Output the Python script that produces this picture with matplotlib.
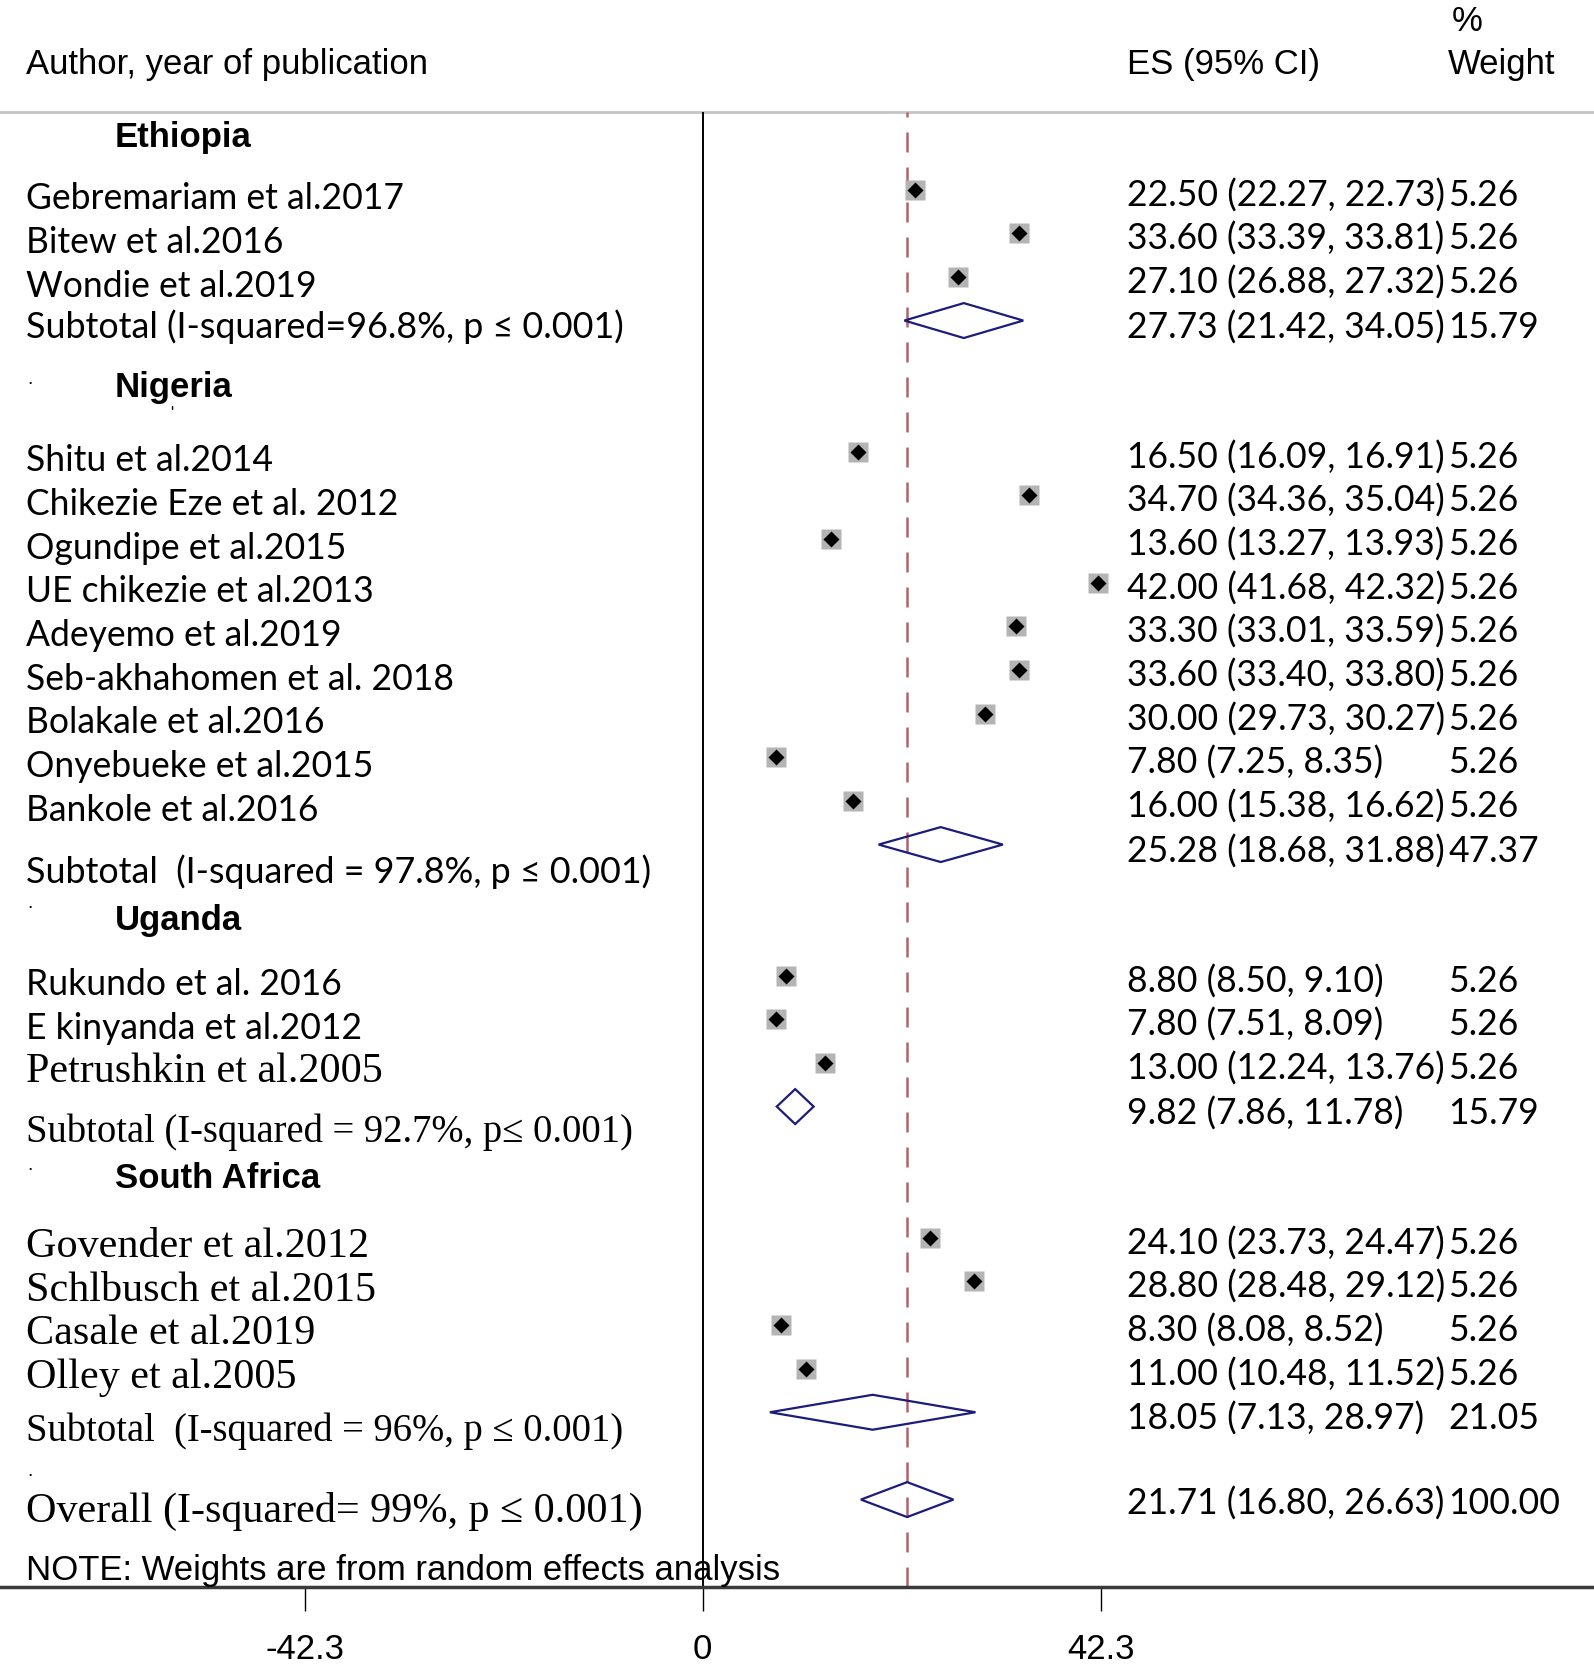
import matplotlib.pyplot as plt
from matplotlib.patches import Polygon
import matplotlib.transforms as mtransforms

ARIAL = 'Liberation Sans'
CALIBRI = 'Lato'
TIMES = 'Liberation Serif'

# ---- data ----
groups = ['Ethiopia', 'Nigeria', 'Uganda', 'South Africa']

study_names = [
    ['Gebremariam et al.2017', 'Bitew et al.2016', 'Wondie et al.2019'],
    ['Shitu et al.2014', 'Chikezie Eze et al. 2012', 'Ogundipe et al.2015',
     'UE chikezie et al.2013', 'Adeyemo et al.2019', 'Seb-akhahomen et al. 2018',
     'Bolakale et al.2016', 'Onyebueke et al.2015', 'Bankole et al.2016'],
    ['Rukundo et al. 2016', 'E kinyanda et al.2012', 'Petrushkin et al.2005'],
    ['Govender et al.2012', 'Schlbusch et al.2015', 'Casale et al.2019', 'Olley et al.2005'],
]
study_es = [
    [22.50, 33.60, 27.10],
    [16.50, 34.70, 13.60, 42.00, 33.30, 33.60, 30.00, 7.80, 16.00],
    [8.80, 7.80, 13.00],
    [24.10, 28.80, 8.30, 11.00],
]
study_lo = [
    [22.27, 33.39, 26.88],
    [16.09, 34.36, 13.27, 41.68, 33.01, 33.40, 29.73, 7.25, 15.38],
    [8.50, 7.51, 12.24],
    [23.73, 28.48, 8.08, 10.48],
]
study_hi = [
    [22.73, 33.81, 27.32],
    [16.91, 35.04, 13.93, 42.32, 33.59, 33.80, 30.27, 8.35, 16.62],
    [9.10, 8.09, 13.76],
    [24.47, 29.12, 8.52, 11.52],
]
study_wt = [
    [5.26, 5.26, 5.26],
    [5.26] * 9,
    [5.26, 5.26, 5.26],
    [5.26, 5.26, 5.26, 5.26],
]
study_fonts = [
    [CALIBRI] * 3,
    [CALIBRI] * 9,
    [CALIBRI, CALIBRI, TIMES],
    [TIMES] * 4,
]

sub_labels = ['Subtotal (I-squared=96.8%, p \u2264 0.001)',
              'Subtotal  (I-squared = 97.8%, p \u2264 0.001)',
              'Subtotal (I-squared = 92.7%, p\u2264 0.001)',
              'Subtotal  (I-squared = 96%, p \u2264 0.001)']
sub_fonts = [CALIBRI, CALIBRI, TIMES, TIMES]
sub_es = [27.73, 25.28, 9.82, 18.05]
sub_lo = [21.42, 18.68, 7.86, 7.13]
sub_hi = [34.05, 31.88, 11.78, 28.97]
sub_wt = [15.79, 47.37, 15.79, 21.05]

overall_label = 'Overall (I-squared= 99%, p \u2264 0.001)'
overall_es, overall_lo, overall_hi, overall_wt = 21.71, 16.80, 26.63, 100.00

xticks = [-42.3, 0, 42.3]
xticklabels = ['-42.3', '0', '42.3']

# ---- layout ----
PX = 8.84 / (1497 / 1594)          # pixels per unit in the full image
W, H = 1594, 1670
x0_px = 660 * 1594 / 1497
xmin = -x0_px / PX
xmax = (W - x0_px) / PX

head_dy = [-1.19, -1.46, -1.27, -1.36]
sub_text_dy = [0.14, 0.61, 0.58, 0.44]

fig = plt.figure(figsize=(W / 100, H / 100), dpi=100)
ax_bottom = 1 - 1490 / 1568
ax_top = 1 - 105 / 1568
ax = fig.add_axes([0, ax_bottom, 1, ax_top - ax_bottom])
ax.set_xlim(xmin, xmax)
ax.set_ylim(32, -1.78)

tr = mtransforms.blended_transform_factory(ax.transAxes, ax.transData)
X_NAME = 24 / 1497
X_HEAD = 108 / 1497
X_ES = 1058 / 1497
X_WT = 1360 / 1497

FS = 25
FS_CAL = 25.6
FS_TNR = 30.3          # study names in serif
FS_TNR_SUB = 27.8      # serif subtotal lines
FS_CAL_SUB = 25.8


def es_text(es, lo, hi):
    return f'{es:.2f} ({lo:.2f}, {hi:.2f})'


def fs_for(font):
    return {ARIAL: FS, CALIBRI: FS_CAL, TIMES: FS_TNR}[font]


# header
ax.text(X_NAME, -2.86, 'Author, year of publication', transform=tr, family=ARIAL,
        fontsize=FS, va='center', ha='left', clip_on=False)
ax.text(X_ES, -2.86, 'ES (95% CI)', transform=tr, family=ARIAL,
        fontsize=FS, va='center', ha='left', clip_on=False)
ax.text(X_WT, -2.86, 'Weight', transform=tr, family=ARIAL,
        fontsize=FS, va='center', ha='left', clip_on=False)
ax.text(1363 / 1497, -3.86, '%', transform=tr, family=ARIAL,
        fontsize=FS, va='center', ha='left', clip_on=False)
ax.axhline(-1.78, color='#c4c4c4', lw=2, clip_on=False, zorder=1)

# reference lines
ax.axvline(0, color='black', lw=1.4, zorder=1)
ax.axvline(overall_es, color='#b3626c', lw=1.8, ls=(0, (8, 6)), zorder=1)

row = 0
for g in range(len(groups)):
    ax.text(X_HEAD, row + head_dy[g], groups[g], transform=tr, family=ARIAL,
            fontsize=FS, fontweight='bold', va='center', ha='left')
    for i in range(len(study_names[g])):
        f = study_fonts[g][i]
        ax.text(X_NAME, row + 0.21, study_names[g][i], transform=tr, family=f,
                fontsize=fs_for(f), va='center', ha='left')
        ax.plot([study_lo[g][i], study_hi[g][i]], [row, row], color='black', lw=1, zorder=2)
        ax.plot(study_es[g][i], row, marker='s', ms=13.8, color='#b4b4b4', mec='none', zorder=3)
        ax.plot(study_es[g][i], row, marker='D', ms=8.3, color='black', mec='none', zorder=4)
        ax.text(X_ES, row + 0.13, es_text(study_es[g][i], study_lo[g][i], study_hi[g][i]),
                transform=tr, family=CALIBRI, fontsize=FS_CAL, va='center', ha='left')
        ax.text(X_WT, row + 0.13, f'{study_wt[g][i]:.2f}', transform=tr, family=CALIBRI,
                fontsize=FS_CAL, va='center', ha='left')
        row += 1
    # subtotal
    ax.add_patch(Polygon([(sub_lo[g], row), (sub_es[g], row - 0.4), (sub_hi[g], row),
                          (sub_es[g], row + 0.4)], closed=True, fill=False,
                         edgecolor='#1c1c7c', lw=1.6, zorder=3))
    sfs = FS_TNR_SUB if sub_fonts[g] == TIMES else FS_CAL_SUB
    ax.text(X_NAME, row + sub_text_dy[g], sub_labels[g], transform=tr, family=sub_fonts[g],
            fontsize=sfs, va='center', ha='left')
    ax.text(X_ES, row + 0.15, es_text(sub_es[g], sub_lo[g], sub_hi[g]), transform=tr,
            family=CALIBRI, fontsize=FS_CAL, va='center', ha='left')
    ax.text(X_WT, row + 0.15, f'{sub_wt[g]:.2f}', transform=tr, family=CALIBRI,
            fontsize=FS_CAL, va='center', ha='left')
    # stray dot left by the original software
    ax.text(X_NAME + 0.001, row + 1.45, '.', transform=tr, family=ARIAL, fontsize=14,
            va='baseline', ha='left')
    row += 3 if g < len(groups) - 1 else 2

ax.text(160 / 1497, 5.12, "'", transform=tr, family=ARIAL, fontsize=12, va='center', ha='left')

# overall
ax.add_patch(Polygon([(overall_lo, row), (overall_es, row - 0.4), (overall_hi, row),
                      (overall_es, row + 0.4)], closed=True, fill=False,
                     edgecolor='#1c1c7c', lw=1.6, zorder=3))
ax.text(X_NAME, row + 0.27, overall_label, transform=tr, family=TIMES, fontsize=FS_TNR,
        va='center', ha='left')
ax.text(X_ES, row + 0.1, es_text(overall_es, overall_lo, overall_hi), transform=tr,
        family=CALIBRI, fontsize=FS_CAL, va='center', ha='left')
ax.text(X_WT, row + 0.1, f'{overall_wt:.2f}', transform=tr, family=CALIBRI,
        fontsize=FS_CAL, va='center', ha='left')

ax.text(X_NAME, 31.63, 'NOTE: Weights are from random effects analysis', transform=tr,
        family=ARIAL, fontsize=FS, va='center', ha='left')

# axis
for s in ['top', 'left', 'right']:
    ax.spines[s].set_visible(False)
ax.spines['bottom'].set_color('#3a3a3a')
ax.spines['bottom'].set_linewidth(2.5)
ax.set_yticks([])
ax.set_xticks(xticks)
ax.set_xticklabels(xticklabels, family=ARIAL, fontsize=FS)
ax.tick_params(axis='x', length=17, width=1, color='black', pad=16)

fig.savefig('out.png', dpi=100)
